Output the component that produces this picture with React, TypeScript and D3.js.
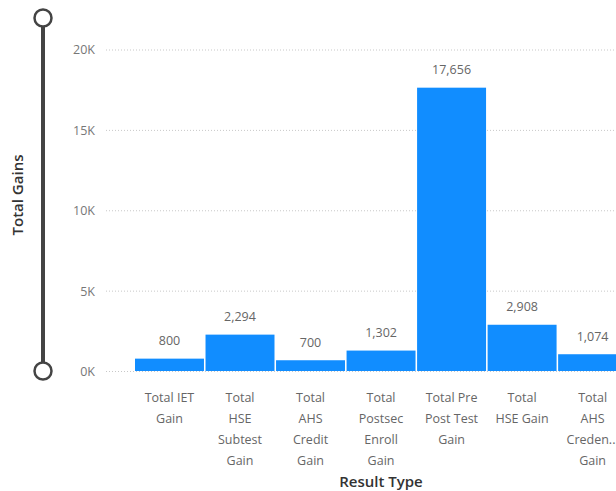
import React from "react";
import * as d3 from "d3";

const categories = [
  "Total IET Gain",
  "Total HSE Subtest Gain",
  "Total AHS Credit Gain",
  "Total Postsec Enroll Gain",
  "Total Pre Post Test Gain",
  "Total HSE Gain",
  "Total AHS Credential Gain",
];
const categoryLines = [
  ["Total IET", "Gain"],
  ["Total", "HSE", "Subtest", "Gain"],
  ["Total", "AHS", "Credit", "Gain"],
  ["Total", "Postsec", "Enroll", "Gain"],
  ["Total Pre", "Post Test", "Gain"],
  ["Total", "HSE Gain"],
  ["Total", "AHS", "Creden...", "Gain"],
];
const values = [800, 2294, 700, 1302, 17656, 2908, 1074];
const yTicks = [0, 5000, 10000, 15000, 20000];
const yTickLabels = ["0K", "5K", "10K", "15K", "20K"];

const W = 616;
const H = 491;
const FONT = "'Open Sans', 'Noto Sans', sans-serif";

export default function App() {
  const x = d3
    .scaleBand<string>()
    .domain(categories)
    .range([135, 135 + 7 * 70.3])
    .paddingInner(0.022)
    .paddingOuter(0);
  const y = d3.scaleLinear().domain([0, 20000]).range([371.5, 50]);
  const fmt = d3.format(",");

  return (
    <svg
      width={W}
      height={H}
      style={{ position: "absolute", left: 0, top: 0, background: "#fff" }}
      fontFamily={FONT}
    >
      {/* clipped title */}
      <text x={41} y={-3} fontSize={15} fontWeight={700} fill="#252423">
        Total Gains by Result Type
      </text>

      {/* gridlines */}
      {yTicks.map((t) => (
        <line
          key={"g" + t}
          x1={106}
          x2={W}
          y1={y(t)}
          y2={y(t)}
          stroke="#c8c8c8"
          strokeWidth={1}
          strokeDasharray="1 2"
        />
      ))}
      {/* y tick labels */}
      {yTicks.map((t, i) => (
        <text
          key={"t" + t}
          x={95}
          y={y(t)}
          dy="0.35em"
          textAnchor="end"
          fontSize={12.5}
          fill="#777"
        >
          {yTickLabels[i]}
        </text>
      ))}

      {/* slider */}
      <line x1={43} x2={43} y1={26} y2={363} stroke="#444" strokeWidth={4} />
      <circle cx={43} cy={18} r={8.5} fill="#fff" stroke="#444" strokeWidth={2.5} />
      <circle cx={43} cy={371} r={8.5} fill="#fff" stroke="#444" strokeWidth={2.5} />

      {/* y axis title */}
      <text
        transform={`translate(23,195) rotate(-90)`}
        textAnchor="middle"
        fontSize={15}
        fontWeight={600}
        fill="#333"
      >
        Total Gains
      </text>

      {/* bars */}
      {categories.map((c, i) => (
        <rect
          key={c}
          x={x(c)}
          y={y(values[i])}
          width={x.bandwidth()}
          height={y(0) - y(values[i]) - 0.5}
          fill="#118DFF"
        />
      ))}
      {/* value labels */}
      {categories.map((c, i) => (
        <text
          key={"v" + c}
          x={(x(c) as number) + x.bandwidth() / 2}
          y={y(values[i]) - 18}
          dy="0.35em"
          textAnchor="middle"
          fontSize={12.5}
          fill="#666"
        >
          {fmt(values[i])}
        </text>
      ))}

      {/* category labels */}
      {categories.map((c, i) => (
        <text
          key={"c" + c}
          textAnchor="middle"
          fontSize={12.5}
          fill="#666"
        >
          {categoryLines[i].map((ln, j) => (
            <tspan
              key={j}
              x={(x(c) as number) + x.bandwidth() / 2}
              y={398 + j * 21}
              dy="0.35em"
            >
              {ln}
            </tspan>
          ))}
        </text>
      ))}

      {/* x axis title */}
      <text x={381} y={482} dy="0.35em" textAnchor="middle" fontSize={15} fontWeight={600} fill="#333">
        Result Type
      </text>
    </svg>
  );
}
